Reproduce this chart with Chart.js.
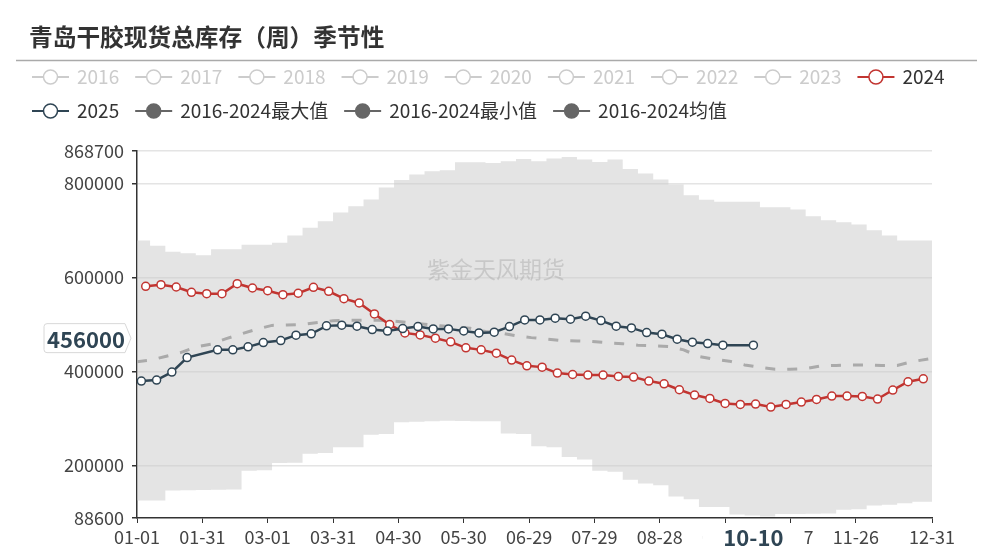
<!DOCTYPE html>
<html>
<head>
<meta charset="utf-8">
<script src="https://cdn.jsdelivr.net/npm/chart.js@4.4.0/dist/chart.umd.min.js"></script>
<style>
  html, body { margin: 0; padding: 0; background: #fff; }
  #wrap { width: 991px; height: 555px; position: relative; }
</style>
</head>
<body>
<div id="wrap"><canvas id="chart"></canvas></div>
<script>
const FONT = '"Noto Sans CJK SC", "Noto Sans", sans-serif';
const C2024 = '#c23531';
const C2025 = '#2f4554';

const titleText = '青岛干胶现货总库存（周）季节性';
const watermark = '紫金天风期货';

// axis ticks
const xTickLabels = ['01-01', '01-31', '03-01', '03-31', '04-30', '05-30', '06-29',
  '07-29', '08-28', '09-27', '10-27', '11-26', '12-31'];
const yTickValues = [88600, 200000, 400000, 600000, 800000, 868700];

// legend
const hiddenYears = ['2016', '2017', '2018', '2019', '2020', '2021', '2022', '2023'];

// 2024 weekly
const dates2024 = ['01-05', '01-12', '01-19', '01-26', '02-02', '02-09', '02-16', '02-23',
  '03-01', '03-08', '03-15', '03-22', '03-29', '04-05', '04-12', '04-19', '04-26',
  '05-03', '05-10', '05-17', '05-24', '05-31', '06-07', '06-14', '06-21', '06-28',
  '07-05', '07-12', '07-19', '07-26', '08-02', '08-09', '08-16', '08-23', '08-30',
  '09-06', '09-13', '09-20', '09-27', '10-04', '10-11', '10-18', '10-25',
  '11-01', '11-08', '11-15', '11-22', '11-29', '12-06', '12-13', '12-20', '12-27'];
const values2024 = [581100, 584600, 579600, 568400, 565400, 565400, 586600, 577500,
  571800, 563300, 566300, 579000, 570500, 554900, 545700, 522400, 499700,
  482100, 477800, 470800, 463000, 450300, 446000, 439000, 424200, 412100,
  409300, 396600, 393600, 392400, 392400, 389400, 388100, 379600, 373900,
  361200, 349900, 342700, 332100, 330000, 330800, 324500, 330000,
  335100, 340600, 347800, 347800, 347000, 341500, 360600, 378200, 384500];

// 2025 weekly
const dates2025 = ['01-03', '01-10', '01-17', '01-24', '02-07', '02-14', '02-21', '02-28',
  '03-07', '03-14', '03-21', '03-28', '04-04', '04-11', '04-18', '04-25',
  '05-02', '05-09', '05-16', '05-23', '05-30', '06-06', '06-13', '06-20', '06-27',
  '07-04', '07-11', '07-18', '07-25', '08-01', '08-08', '08-15', '08-22', '08-29',
  '09-05', '09-12', '09-19', '09-26', '10-10'];
const values2025 = [379600, 381700, 398700, 429700, 446000, 446000, 452400, 461500,
  465800, 477200, 480000, 497000, 498400, 496300, 489100, 486000,
  491300, 495400, 490600, 490600, 486300, 482100, 483600, 495400, 509700,
  509700, 513300, 511100, 517500, 508200, 496300, 492700, 482700, 479300,
  468700, 462400, 459400, 456000, 456000];

// 2016-2024 max / min / mean, day of year where each weekly step starts
const bandDays = [0, 6, 13, 20, 27, 34, 41, 48, 55, 62, 69, 76, 83, 90, 97, 104, 111,
  118, 125, 132, 139, 146, 153, 160, 167, 174, 181, 188, 195, 202, 209, 216, 223,
  230, 237, 244, 251, 258, 265, 272, 279, 286, 293, 300, 307, 314, 321, 328, 335,
  342, 349, 356, 365];
const maxValues = [678700, 667200, 654500, 651100, 646900, 659600, 659600, 669400, 669400,
  673600, 689300, 705400, 719600, 738100, 751400, 765600, 791100, 807200, 818700,
  825700, 827800, 844800, 844800, 843300, 846900, 851800, 846900, 852600, 856000,
  850500, 845400, 850500, 830600, 820800, 808100, 797500, 774800, 765000, 760600,
  760600, 760600, 749300, 749300, 744400, 730200, 721700, 717500, 712600, 700500,
  689300, 678700, 678700, 678700];
const minValues = [125700, 125700, 146900, 147500, 148000, 148500, 149000, 189300, 190000,
  205300, 206000, 225400, 227000, 238800, 239000, 265700, 267000, 292300, 293000,
  294000, 295400, 295000, 294500, 294000, 268000, 267000, 241000, 239000, 218000,
  213000, 189000, 187000, 169700, 162000, 158000, 134200, 128500, 112200, 112200,
  96000, 94000, 92000, 97000, 97000, 97500, 98000, 106000, 107000, 115000,
  117000, 120000, 123000, 123000];
const meanValues = [420600, 424000, 432000, 440000, 452000, 458000, 470000, 480000, 490000,
  498000, 499000, 500000, 504000, 508000, 509000, 509000, 509000, 507000, 504000,
  500500, 497000, 495000, 492000, 485000, 482000, 476000, 472000, 469000, 466000,
  465000, 464000, 461000, 459000, 456000, 455000, 453000, 446000, 432000, 426000,
  422000, 414000, 409000, 405000, 405000, 406000, 412000, 413000, 414000, 414000,
  413000, 413000, 421000, 428000];

const pointerDay = '10-10';
const pointerValue = 456000;

// MM-DD -> day index on a leap-year axis
function dayOfYear(mmdd) {
  const [m, d] = mmdd.split('-').map(Number);
  return (Date.UTC(2024, m - 1, d) - Date.UTC(2024, 0, 1)) / 86400000;
}
const toPoints = (dates, vals) => dates.map((d, i) => ({ x: dayOfYear(d), y: vals[i] }));
const bandPoints = (vals) => bandDays.map((d, i) => ({ x: d, y: vals[i] }));

const legendRows = [
  hiddenYears.map(y => ({ text: y, color: '#ccc', textColor: '#ccc', filled: false }))
    .concat([{ text: '2024', color: C2024, textColor: '#333', filled: false }]),
  [
    { text: '2025', color: C2025, textColor: '#333', filled: false },
    { text: '2016-2024最大值', color: '#666', textColor: '#333', filled: true },
    { text: '2016-2024最小值', color: '#666', textColor: '#333', filled: true },
    { text: '2016-2024均值', color: '#666', textColor: '#333', filled: true },
  ],
];

const decor = {
  id: 'decor',
  beforeDatasetsDraw(chart) {
    const ctx = chart.ctx;
    ctx.save();
    ctx.font = `23px ${FONT}`;
    ctx.fillStyle = 'rgba(150,150,150,0.55)';
    ctx.textAlign = 'center';
    ctx.textBaseline = 'middle';
    ctx.fillText(watermark, 496, 269);
    ctx.restore();
  },
  afterDraw(chart) {
    const ctx = chart.ctx;
    ctx.save();
    // title
    ctx.font = `bold 23.7px ${FONT}`;
    ctx.fillStyle = '#333';
    ctx.textAlign = 'left';
    ctx.textBaseline = 'middle';
    ctx.fillText(titleText, 29, 37);
    // separator
    ctx.strokeStyle = '#aaa';
    ctx.lineWidth = 1.5;
    ctx.beginPath();
    ctx.moveTo(16, 60.5);
    ctx.lineTo(977, 60.5);
    ctx.stroke();
    // legend
    ctx.font = `19px ${FONT}`;
    const rowY = [77, 111];
    legendRows.forEach((row, r) => {
      let x = 32;
      const y = rowY[r];
      row.forEach(item => {
        ctx.strokeStyle = item.color;
        ctx.lineWidth = 2;
        ctx.beginPath();
        ctx.moveTo(x, y);
        ctx.lineTo(x + 37, y);
        ctx.stroke();
        ctx.beginPath();
        ctx.arc(x + 18.5, y, 7, 0, Math.PI * 2);
        ctx.fillStyle = item.filled ? item.color : '#fff';
        ctx.fill();
        ctx.lineWidth = 1.5;
        ctx.stroke();
        ctx.fillStyle = item.textColor;
        ctx.fillText(item.text, x + 45, y);
        x += 45 + ctx.measureText(item.text).width + 16;
      });
    });
    // x axis pointer label
    const xs = chart.scales.x, ys = chart.scales.y;
    const px = xs.getPixelForValue(dayOfYear(pointerDay));
    ctx.fillStyle = '#fff';
    ctx.fillRect(px - 51, 525, 102, 29);
    ctx.font = `bold 22px ${FONT}`;
    ctx.fillStyle = C2025;
    ctx.textAlign = 'center';
    ctx.fillText(pointerDay, px, 538);
    // y axis pointer label
    const py = ys.getPixelForValue(pointerValue) - 7;
    ctx.beginPath();
    ctx.moveTo(47, py - 14.5);
    ctx.lineTo(125, py - 14.5);
    ctx.lineTo(131, py);
    ctx.lineTo(125, py + 14.5);
    ctx.lineTo(47, py + 14.5);
    ctx.quadraticCurveTo(44, py + 14.5, 44, py + 11.5);
    ctx.lineTo(44, py - 11.5);
    ctx.quadraticCurveTo(44, py - 14.5, 47, py - 14.5);
    ctx.closePath();
    ctx.fillStyle = '#fff';
    ctx.fill();
    ctx.strokeStyle = '#d8d8d8';
    ctx.lineWidth = 1;
    ctx.stroke();
    ctx.fillStyle = C2025;
    ctx.fillText(String(pointerValue), 86, py + 1);
    ctx.restore();
  }
};

Chart.defaults.font.family = FONT;

new Chart(document.getElementById('chart'), {
  type: 'line',
  data: {
    datasets: [
      {
        label: '2025', data: toPoints(dates2025, values2025), order: 0,
        borderColor: C2025, borderWidth: 2.5, fill: false, tension: 0,
        pointRadius: 4, pointBorderWidth: 1.5, pointBackgroundColor: '#fff', pointBorderColor: C2025
      },
      {
        label: '2024', data: toPoints(dates2024, values2024), order: 1,
        borderColor: C2024, borderWidth: 2.5, fill: false, tension: 0,
        pointRadius: 4, pointBorderWidth: 1.5, pointBackgroundColor: '#fff', pointBorderColor: C2024
      },
      {
        label: '2016-2024均值', data: bandPoints(meanValues), order: 2,
        borderColor: '#aaa', borderWidth: 3, borderDash: [10, 12], fill: false, pointRadius: 0
      },
      {
        label: '2016-2024最大值', data: bandPoints(maxValues), order: 3,
        borderColor: 'transparent', borderWidth: 0, stepped: true, pointRadius: 0,
        fill: 4, backgroundColor: 'rgba(204,204,204,0.52)'
      },
      {
        label: '2016-2024最小值', data: bandPoints(minValues), order: 4,
        borderColor: 'transparent', borderWidth: 0, stepped: true, pointRadius: 0, fill: false
      },
    ]
  },
  options: {
    responsive: true,
    maintainAspectRatio: false,
    animation: false,
    events: [],
    layout: { padding: { top: 151, right: 59, bottom: 0, left: 0 } },
    plugins: { legend: { display: false }, tooltip: { enabled: false } },
    scales: {
      x: {
        type: 'linear', min: 0, max: 365,
        afterBuildTicks: s => { s.ticks = xTickLabels.map(l => ({ value: dayOfYear(l) })); },
        afterFit: s => { s.height = 37; },
        ticks: {
          autoSkip: false, maxRotation: 0, padding: 3, color: '#444', font: { size: 18 },
          callback: (v, i) => xTickLabels[i]
        },
        grid: { drawOnChartArea: false, drawTicks: true, tickLength: 5, tickColor: '#333' },
        border: { color: '#333', width: 1.5 }
      },
      y: {
        type: 'linear', min: 88600, max: 868700,
        afterBuildTicks: s => { s.ticks = yTickValues.map(v => ({ value: v })); },
        afterFit: s => { s.width = 137; },
        ticks: {
          autoSkip: false, padding: 8, color: '#444', font: { size: 18 },
          callback: v => String(v)
        },
        grid: {
          color: c => (c.tick && c.tick.value === 88600) ? 'transparent' : '#e4e4e4',
          lineWidth: 1.5, tickLength: 5, tickColor: '#333'
        },
        border: { color: '#333', width: 1.5 }
      }
    }
  },
  plugins: [decor]
});
</script>
</body>
</html>
